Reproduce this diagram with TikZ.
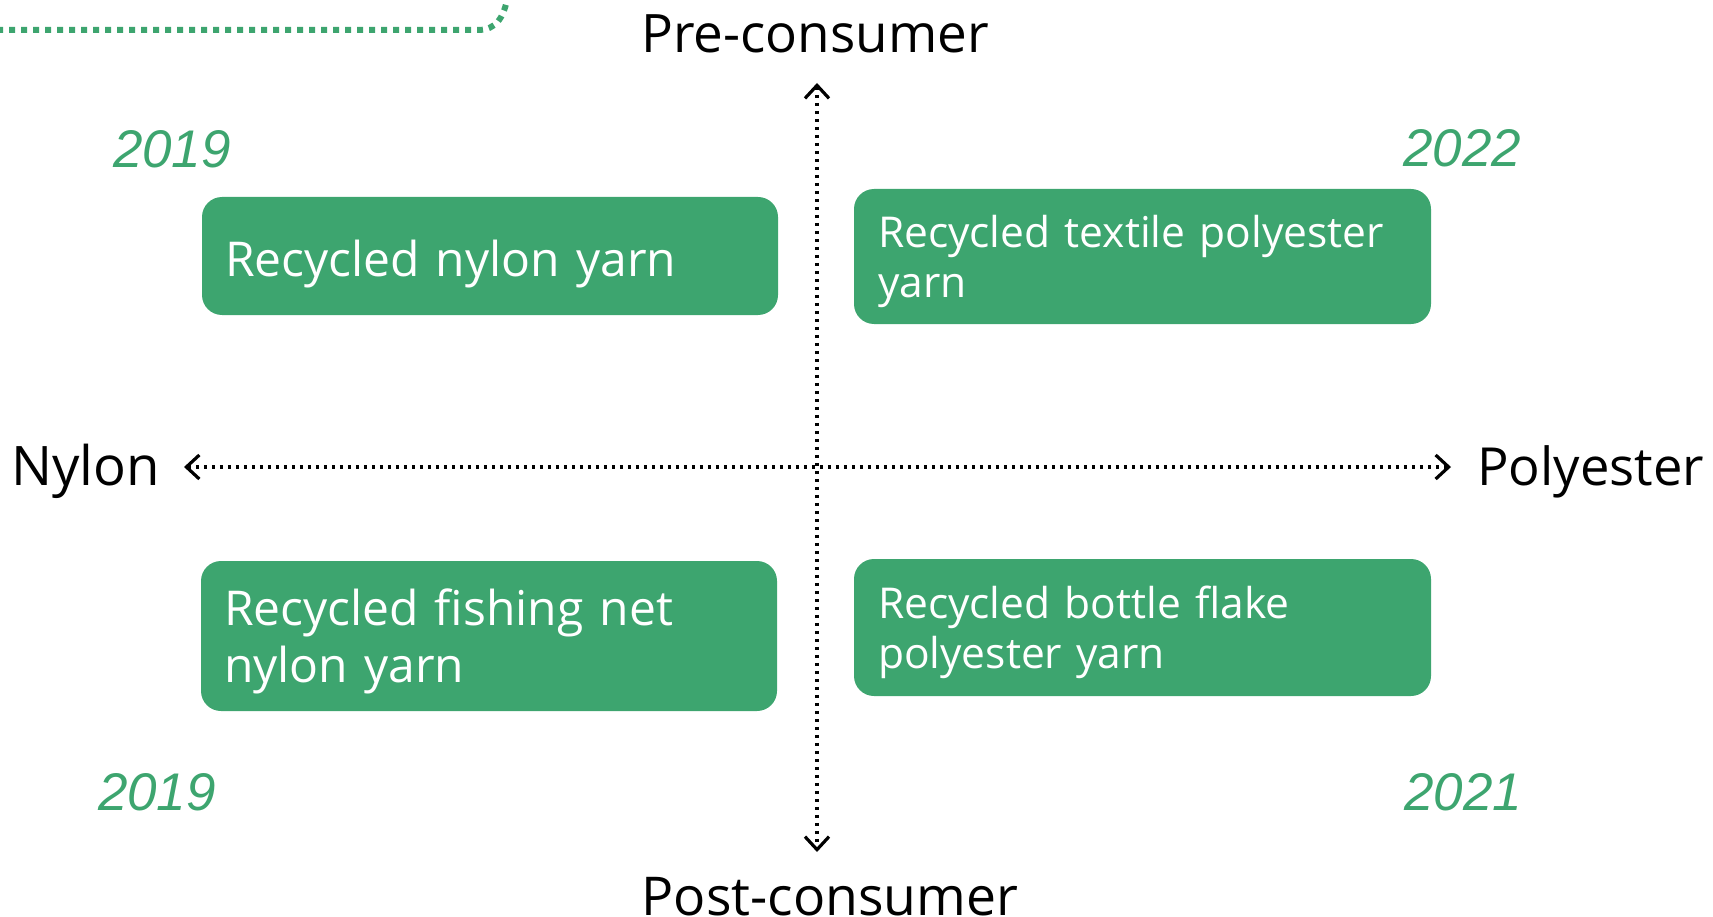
\documentclass[tikz,border=0pt]{standalone}
\usepackage{fontspec}
\setmainfont{Open Sans}
\newfontfamily\yearfont{Liberation Sans}
\usetikzlibrary{arrows.meta}
\definecolor{brandgreen}{RGB}{61,165,111}
\newcommand{\topfix}[1]{\rule{0pt}{#1}}
\begin{document}
\begin{tikzpicture}[x=1pt,y=-1pt,
  box/.style={rectangle, rounded corners=20pt, fill=brandgreen, text=white,
    align=left, inner ysep=0pt, anchor=center},
  bigbox/.style={box, inner xsep=23pt, text width=530pt, minimum width=576pt,
    font=\fontsize{48}{57}\selectfont},
  smallbox/.style={box, inner xsep=24pt, text width=529pt, minimum width=577pt,
    font=\fontsize{42.5}{50}\selectfont},
  axislabel/.style={inner sep=0pt, text=black},
  yearlabel/.style={inner sep=0pt, font=\yearfont\itshape\fontsize{53}{60}\selectfont, text=brandgreen, anchor=base},
  tipstyle/.style={},
  axis/.style={line width=3.5pt, dash pattern=on 3.5pt off 4.5pt,
    arrows={Straight Barb[length=13pt,width=24pt,line width=3.2pt]-Straight Barb[length=13pt,width=24pt,line width=3.2pt]}},
  deco/.style={draw=brandgreen, line width=6pt, dash pattern=on 6pt off 6pt}
]
\useasboundingbox (0,0) rectangle (1713,917);
\clip (0,0) rectangle (1713,917);

% decorative dotted line (top-left)
\draw[deco] (-3,30) -- (478,30) .. controls (496,30) and (504,18) .. (508,-5);

% axes
\coordinate (hl) at (184,467);
\coordinate (hr) at (1451,467);
\coordinate (vt) at (817,83);
\coordinate (vb) at (817,852);
\draw[axis] (hl) -- (hr);
\draw[axis] (vt) -- (vb);

% axis labels
\node[axislabel, anchor=base, font=\fontsize{53}{60}\selectfont] (pre) at (815,53) {Pre-consumer};
\node[axislabel, anchor=base, font=\fontsize{53.5}{60}\selectfont] (post) at (830,915) {Post-consumer};
\node[axislabel, anchor=base west, font=\fontsize{54.5}{60}\selectfont] (nylon) at (11,485) {Nylon};
\node[axislabel, anchor=base west, font=\fontsize{52.5}{60}\selectfont] (poly) at (1477,485) {Polyester};

% years
\node[yearlabel] (y1) at (172,168) {2019};
\node[yearlabel] (y2) at (1462,167) {2022};
\node[yearlabel] (y3) at (157,810) {2019};
\node[yearlabel] (y4) at (1463,810) {2021};

% boxes
\node[bigbox, minimum height=118pt] (b1) at (490,256) {\topfix{53.5pt}Recycled nylon yarn};
\node[smallbox, minimum height=135pt] (b2) at (1142.5,256.5) {\topfix{41.3pt}Recycled textile polyester\\yarn};
\node[bigbox, minimum height=150pt] (b3) at (489,636) {\topfix{48.5pt}Recycled fishing net\\nylon yarn};
\node[smallbox, minimum height=137pt] (b4) at (1142.5,627.5) {\topfix{41.3pt}Recycled bottle flake\\polyester yarn};
\end{tikzpicture}
\end{document}
